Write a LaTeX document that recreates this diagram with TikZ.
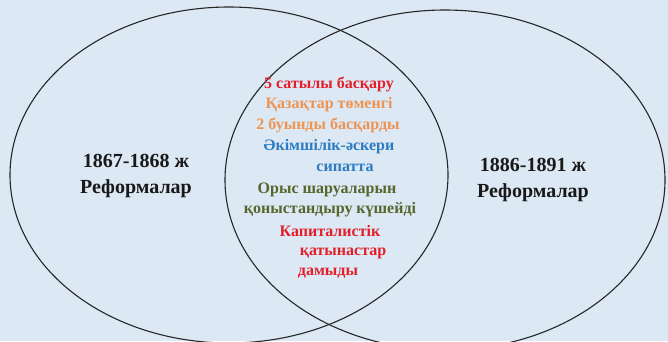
\documentclass[tikz,border=0pt]{standalone}
\usepackage{fontspec}
\setmainfont{Liberation Serif}[BoldFont={Liberation Serif Bold}]
\newfontfamily\kzserif{Liberation Serif}[BoldFont={Liberation Serif Bold}]
\usepackage{xcolor}
\usepackage{tikz}
\definecolor{bgblue}{HTML}{DCE8F4}
\definecolor{kzred}{HTML}{E3202A}
\definecolor{kzorange}{HTML}{EE9452}
\definecolor{kzblue}{HTML}{2C7CC2}
\definecolor{kzgreen}{HTML}{56662C}

\begin{document}
\begin{tikzpicture}[
  x=1pt,y=-1pt,
  ring/.style={draw=black!85,line width=1.1pt},
  title/.style={align=center,inner sep=0pt,font=\kzserif\bfseries\fontsize{20}{26}\selectfont,text=black!90},
  item/.style={inner sep=0pt,font=\kzserif\bfseries\fontsize{16}{18}\selectfont}
]
\useasboundingbox (0,0) rectangle (668,341);
\clip (0,0) rectangle (668,341);
\fill[bgblue] (0,0) rectangle (668,341);
% two sets
\draw[ring] (229,175) ellipse [x radius=219,y radius=168];
\draw[ring] (445,180) ellipse [x radius=220,y radius=170];
% labels of the sets
\node[title] (left) at (136,176) {1867-1868 ж\\Реформалар};
\node[title] (right) at (533,180) {1886-1891 ж\\Реформалар};
% common part
\node[item,text=kzred] (c1) at (329,84) {5 сатылы басқару};
\node[item,text=kzorange] (c2) at (329,105) {Қазақтар төменгі};
\node[item,text=kzorange] (c3) at (328,125) {2 буынды басқарды};
\node[item,text=kzblue] (c4) at (329,147) {Әкімшілік-әскери};
\node[item,text=kzblue] (c5) at (345,168) {сипатта};
\node[item,text=kzgreen] (c6) at (327,190) {Орыс шаруаларын};
\node[item,text=kzgreen] (c7) at (330,210) {қоныстандыру күшейді};
\node[item,text=kzred] (c8) at (330,231) {Капиталистік};
\node[item,text=kzred] (c9) at (343,253) {қатынастар};
\node[item,text=kzred] (c10) at (328,273) {дамыды};
\end{tikzpicture}
\end{document}
